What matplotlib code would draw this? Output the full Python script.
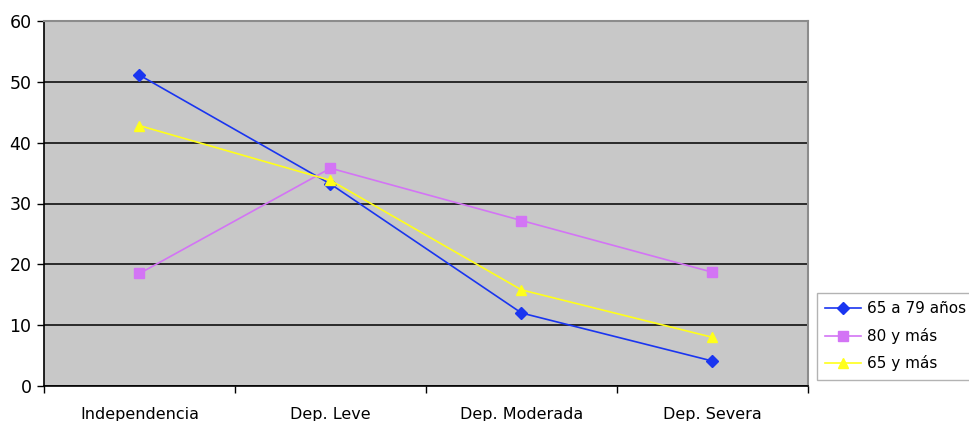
import matplotlib
matplotlib.use("Agg")
import matplotlib.pyplot as plt
import numpy as np

# ====== DATA ======
categories = ["Independencia", "Dep. Leve", "Dep. Moderada", "Dep. Severa"]
series_names = ["65 a 79 años", "80 y más", "65 y más"]
vals_65_79 = [51.1, 33.2, 12.0, 4.1]
vals_80_mas = [18.5, 35.8, 27.2, 18.7]
vals_65_mas = [42.8, 33.8, 15.8, 8.0]

colors = ["#1a35f0", "#d374f5", "#ffff1a"]
markers = ["D", "s", "^"]
marker_sizes = [6, 7.5, 7.5]

fig = plt.figure(figsize=(9.70, 4.21), dpi=100)
ax = fig.add_axes([44 / 970, 35 / 421, 764 / 970, 365 / 421])
ax.set_facecolor("#c8c8c8")

x = np.arange(len(categories))
for vals, name, c, m, ms in zip([vals_65_79, vals_80_mas, vals_65_mas],
                                series_names, colors, markers, marker_sizes):
    ax.plot(x, vals, color=c, marker=m, markersize=ms, linewidth=1.2,
            label=name, zorder=3)

ax.set_xlim(-0.5, len(categories) - 0.5)
ax.set_ylim(0, 60)
ax.set_yticks(np.arange(0, 61, 10))
ax.yaxis.grid(True, color="black", linewidth=1.1)
ax.set_axisbelow(True)

ax.set_xticks(x)
ax.set_xticklabels(categories)
ax.set_xticks(np.arange(-0.5, len(categories), 1.0), minor=True)
ax.tick_params(axis="x", which="major", length=0, pad=15, labelsize=11.5)
ax.tick_params(axis="x", which="minor", length=5, direction="out", width=1)
ax.tick_params(axis="y", length=5, width=1, direction="out", labelsize=12.5, pad=4)

for side in ["top", "right"]:
    ax.spines[side].set_color("#8c8c8c")
    ax.spines[side].set_linewidth(1.5)
for side in ["left", "bottom"]:
    ax.spines[side].set_color("black")
    ax.spines[side].set_linewidth(1.2)

leg = fig.legend(loc="upper left", bbox_to_anchor=(817 / 970, 1 - 293 / 421),
                 fontsize=11, frameon=True, fancybox=False, borderaxespad=0,
                 handlelength=2.35, labelspacing=0.75, borderpad=0.55,
                 handletextpad=0.35)
leg.get_frame().set_edgecolor("#a0a0a0")
leg.get_frame().set_linewidth(1)

fig.savefig("out.png", dpi=100)
